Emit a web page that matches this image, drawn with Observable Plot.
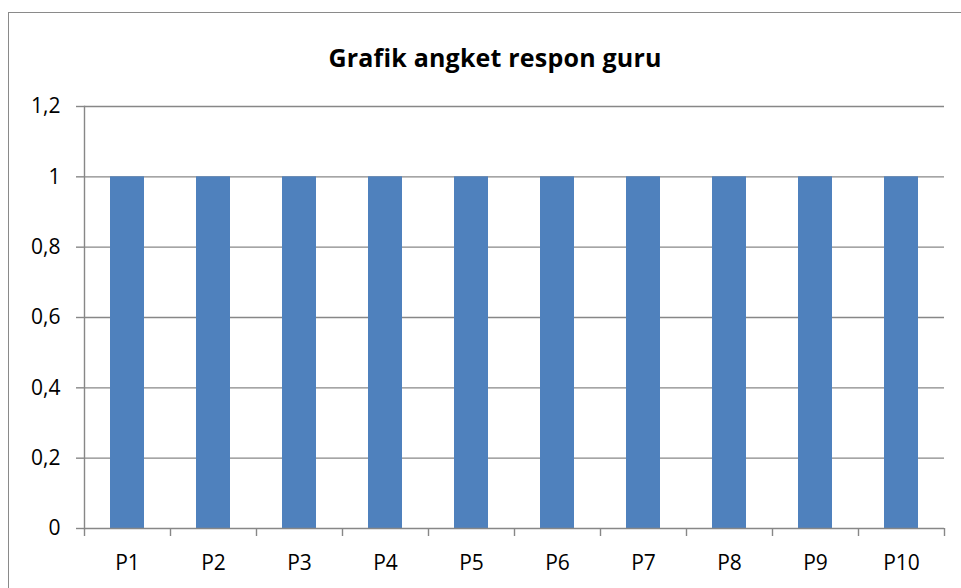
<!DOCTYPE html>
<html><head><meta charset="utf-8">
<script src="https://cdn.jsdelivr.net/npm/d3@7"></script>
<script src="https://cdn.jsdelivr.net/npm/@observablehq/plot@0.6"></script>
<style>
body{margin:0;background:#fff;overflow:hidden;font-family:"Open Sans",sans-serif}
#wrap{position:relative;width:961px;height:588px;overflow:hidden;background:#fff}
#frame{position:absolute;left:8px;top:12px;width:1000px;height:700px;border:1.5px solid #8a8a8a;}
#title{position:absolute;left:8px;width:974px;top:42px;text-align:center;font-weight:bold;font-size:25px;line-height:30px;letter-spacing:0.2px;color:#000;font-family:"Open Sans",sans-serif}
#chart{position:absolute;left:0;top:90px}
</style></head><body>
<div id="wrap"><div id="frame"></div><div id="title">Grafik angket respon guru</div><div id="chart"></div></div>
<script>
const categories = ["P1","P2","P3","P4","P5","P6","P7","P8","P9","P10"];
const values = [1,1,1,1,1,1,1,1,1,1];
const yTicks = [0,0.2,0.4,0.6,0.8,1,1.2];

const data = categories.map((c,i)=>({category:c, value:values[i]}));
const width = 961, marginLeft = 84, marginRight = 17;
const step = (width - marginLeft - marginRight) / categories.length;
const fmt = d => String(d).replace(".", ",");
const grid = "#878787";

const chart = Plot.plot({
  width, height: 498, marginTop: 16, marginBottom: 60, marginLeft, marginRight,
  style: {fontFamily: "'Open Sans', sans-serif", fontSize: "21px", color: "#000", background: "transparent", overflow: "visible"},
  x: {domain: categories, padding: 0, label: null},
  y: {domain: [0, 1.2], label: null},
  marks: [
    Plot.ruleY(yTicks.slice(1), {stroke: grid, strokeWidth: 1.4}),
    Plot.barY(data, {x: "category", y: "value", fill: "#4f81bd", insetLeft: 26, insetRight: 26}),
    Plot.ruleY([0], {stroke: grid, strokeWidth: 1.4}),
    Plot.frame({anchor: "left", stroke: grid, strokeWidth: 1.4}),
    Plot.axisY({ticks: yTicks, tickFormat: fmt, tickSize: 8, tickPadding: 16, stroke: grid, strokeWidth: 1.4, strokeOpacity: 1, fontSize: 21, fill: "#000", label: null}),
    Plot.axisX({tickSize: 8, text: null, dx: -step / 2, stroke: grid, strokeWidth: 1.4, strokeOpacity: 1, label: null}),
    Plot.axisX({ticks: [categories[categories.length - 1]], tickSize: 8, text: null, dx: step / 2, stroke: grid, strokeWidth: 1.4, strokeOpacity: 1, label: null}),
    Plot.axisX({tickSize: 0, tickPadding: 27, fontSize: 21, fill: "#000", label: null})
  ]
});
document.getElementById("chart").appendChild(chart);
</script>
</body></html>
